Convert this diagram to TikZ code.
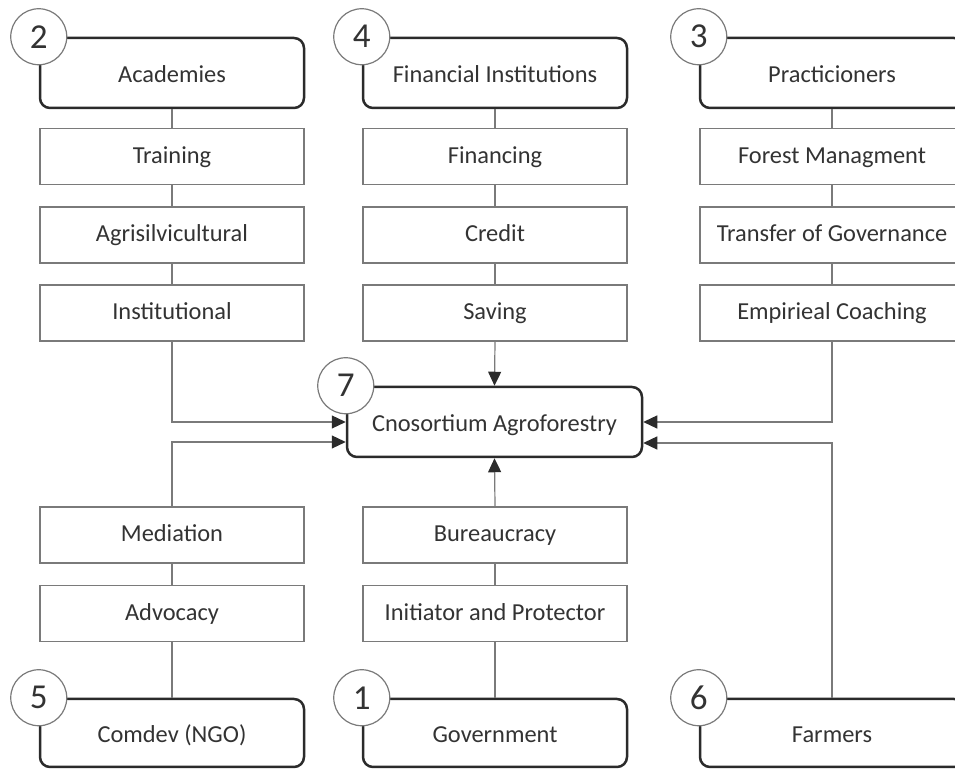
\documentclass[tikz,border=0pt]{standalone}
\usepackage{fontspec}
\setmainfont{Carlito}
\usetikzlibrary{arrows.meta}
\definecolor{txt}{HTML}{333333}
\definecolor{dark}{HTML}{2B2B2B}
\definecolor{thin}{HTML}{7A7A7A}
\begin{document}
\begin{tikzpicture}[x=0.5pt,y=-0.5pt,
  boxtext/.style={text=txt,font=\fontsize{12.2}{14}\selectfont,text height=0.8em,text depth=0.1em},
  mainbox/.style={boxtext,draw=dark,line width=1.25pt,rounded corners=5pt,fill=white,
    minimum width=132pt,minimum height=35pt,inner sep=0pt,text height=0.95em,text depth=0.03em},
  smallbox/.style={boxtext,draw=thin,line width=0.6pt,fill=white,
    minimum width=132pt,minimum height=28pt,inner sep=0pt},
  numcirc/.style={circle,draw=thin,line width=0.6pt,fill=white,minimum size=28pt,inner sep=0pt,
    text=txt,font=\fontsize{17.5}{19}\selectfont},
  link/.style={draw=thin,line width=0.6pt},
  arr/.style={draw=thin,line width=0.6pt,-{Triangle[length=7pt,width=6.5pt,color=dark]}}
]
\useasboundingbox (0,0) rectangle (955,769);
\clip (0,0) rectangle (955,769);

% top row main boxes
\node[mainbox] (acad) at (172,73) {Academies};
\node[mainbox] (fin) at (495,73) {Financial Institutions};
\node[mainbox] (prac) at (832,73) {Practicioners};

% column 1 small boxes
\node[smallbox] (train) at (172,156.5) {Training};
\node[smallbox] (agri) at (172,235) {Agrisilvicultural};
\node[smallbox] (inst) at (172,313) {Institutional};
% column 2
\node[smallbox] (financing) at (495,156.5) {Financing};
\node[smallbox] (credit) at (495,235) {Credit};
\node[smallbox] (saving) at (495,313) {Saving};
% column 3
\node[smallbox] (forest) at (832,156.5) {Forest Managment};
\node[smallbox] (transfer) at (832,235) {Transfer of Governance};
\node[smallbox] (coach) at (832,313) {Empirieal Coaching};

% centre
\node[mainbox,minimum width=147.5pt] (cen) at (494.5,422) {Cnosortium Agroforestry};

% bottom small boxes
\node[smallbox] (med) at (172,535) {Mediation};
\node[smallbox] (adv) at (172,613.5) {Advocacy};
\node[smallbox] (bur) at (495,535) {Bureaucracy};
\node[smallbox] (init) at (495,613.5) {Initiator and Protector};

% bottom main boxes
\node[mainbox,minimum height=34pt] (comdev) at (172,733) {Comdev (NGO)};
\node[mainbox,minimum height=34pt] (gov) at (495,733) {Government};
\node[mainbox,minimum height=34pt] (farm) at (832,733) {Farmers};

% connectors
\draw[link] (acad.south) -- (train.north);
\draw[link] (train.south) -- (agri.north);
\draw[link] (agri.south) -- (inst.north);
\draw[link] (fin.south) -- (financing.north);
\draw[link] (financing.south) -- (credit.north);
\draw[link] (credit.south) -- (saving.north);
\draw[link] (prac.south) -- (forest.north);
\draw[link] (forest.south) -- (transfer.north);
\draw[link] (transfer.south) -- (coach.north);
\draw[link] (med.south) -- (adv.north);
\draw[link] (adv.south) -- (comdev.north);
\draw[link] (bur.south) -- (init.north);
\draw[link] (init.south) -- (gov.north);

\draw[arr] (saving.south) -- (cen.north);
\draw[arr] (bur.north) -- (cen.south);
\draw[arr] (inst.south) |- (cen.west);
\draw[arr] (med.north) |- ([yshift=-10pt]cen.west);
\draw[arr] (coach.south) |- (cen.east);
\draw[arr] (farm.north) |- ([yshift=-10.5pt]cen.east);

% number circles
\node[numcirc] (n2) at (acad.north west) {2};
\node[numcirc] (n4) at (fin.north west) {4};
\node[numcirc] (n3) at (prac.north west) {3};
\node[numcirc] (n7) at (cen.north west) {7};
\node[numcirc] (n5) at (comdev.north west) {5};
\node[numcirc] (n1) at (gov.north west) {1};
\node[numcirc] (n6) at (farm.north west) {6};
\end{tikzpicture}
\end{document}
